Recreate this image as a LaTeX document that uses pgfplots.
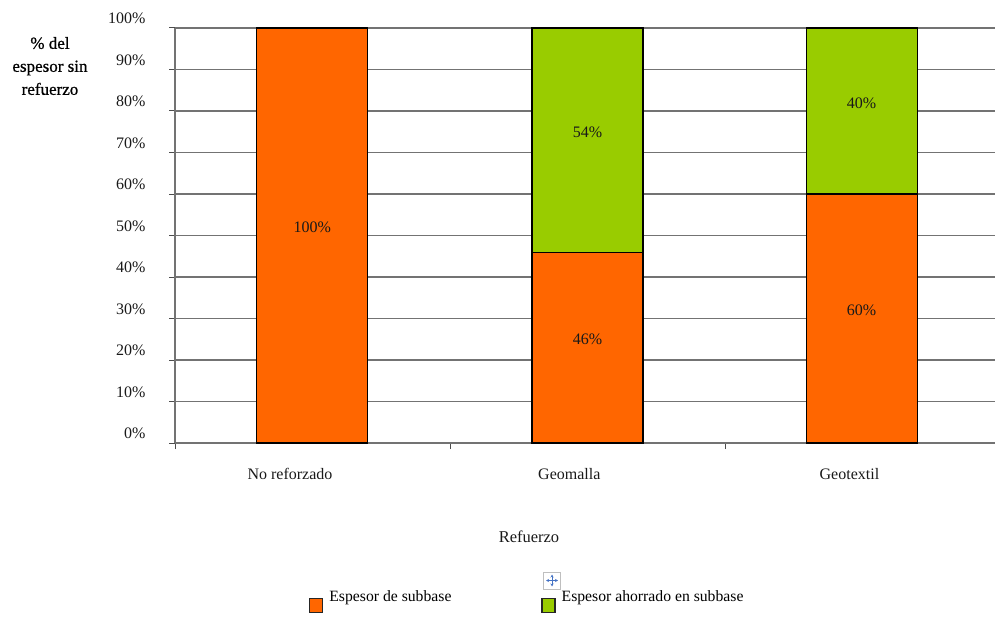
\documentclass[border=0pt]{standalone}
\usepackage{pgfplots}
\pgfplotsset{compat=1.18}
\usetikzlibrary{arrows.meta}
\usepackage{fontspec}
\setmainfont{Liberation Serif}
\newfontfamily\axistitlefont[FakeBold=0.7]{Liberation Serif}
\definecolor{subbase}{HTML}{FF6600}
\definecolor{ahorro}{HTML}{99CC00}
\definecolor{handle}{HTML}{4472C4}
\begin{document}
\begin{tikzpicture}
\path[use as bounding box] (0pt,0pt) rectangle (995pt,619pt);
\begin{axis}[
  at={(175pt,176pt)}, anchor=south west,
  width=820pt, height=415pt, scale only axis,
  clip=false,
  ybar stacked, bar width=111pt,
  xmin=0, xmax=2.98, ymin=0, ymax=100,
  xtick={0,1,2}, xticklabels={},
  extra x ticks={0.418,1.433,2.451},
  extra x tick style={major tick length=0pt, grid=none, tick style={draw=none}},
  extra x tick labels={No reforzado,Geomalla,Geotextil},
  ytick={0,10,...,100},
  yticklabel={\pgfmathprintnumber{\tick}\%},
  /pgf/number format/assume math mode=true,
  tick label style={font=\fontsize{16}{18}\selectfont, text=black!90},
  xticklabel style={yshift=-22pt},
  ymajorgrids, grid style={black!55, line width=1.7pt},
  axis x line=bottom, axis y line=left,
  axis line style={black!55, line width=1.7pt, -},
  major tick length=6pt,
  tick style={black!70, line width=1pt},
  tick align=outside,
  yticklabel style={xshift=-20pt, yshift=9.5pt},
  point meta=explicit symbolic,
  nodes near coords,
  every node near coord/.append style={font=\fontsize{16}{18}\selectfont, text=black!90, anchor=center, yshift=8pt},
  legend columns=2,
  legend style={at={(131pt,-172pt)}, anchor=south west, draw=none, fill=none,
    font=\fontsize{15.7}{18}\selectfont,
    /tikz/every odd column/.append style={column sep=4pt},
    /tikz/every even column/.append style={column sep=88pt}},
  legend cell align=left,
]
% Stacked shares of the unreinforced subbase thickness, one series per layer
\addplot+[ybar, fill=subbase, draw=black, line width=1.1pt,
  legend image code/.code={\draw[fill=subbase, draw=black!85, line width=1.2pt] (0pt,-15pt) rectangle (13pt,-1pt);}]
  coordinates {(0.499,100) [100\%] (1.499,46) [46\%] (2.495,60) [60\%]};
\addlegendentry{Espesor de subbase}
\addplot+[ybar, fill=ahorro, draw=black, line width=1.1pt,
  legend image code/.code={\draw[fill=ahorro, draw=black!85, line width=1.2pt] (0pt,-15pt) rectangle (13pt,-1pt);}]
  coordinates {(0.499,0) [{}] (1.499,54) [54\%] (2.495,40) [40\%]};
\addlegendentry{Espesor ahorrado en subbase}
\end{axis}
\node[font=\fontsize{17}{23}\selectfont\axistitlefont, align=center] at (50pt,553pt) {\% del\\espesor sin\\refuerzo};
\node[font=\fontsize{16.5}{20}\selectfont, text=black!90] at (529pt,82pt) {Refuerzo};
% Move handle of the embedded object
\draw[black!25, fill=white, line width=1pt] (543.5pt,30pt) rectangle (560.5pt,47pt);
\draw[{Stealth[length=3pt,width=3pt]}-{Stealth[length=3pt,width=3pt]}, handle, line width=.7pt] (546pt,38.5pt) -- (558pt,38.5pt);
\draw[{Stealth[length=3pt,width=3pt]}-{Stealth[length=3pt,width=3pt]}, handle, line width=.7pt] (552pt,32.5pt) -- (552pt,44.5pt);
\end{tikzpicture}
\end{document}
